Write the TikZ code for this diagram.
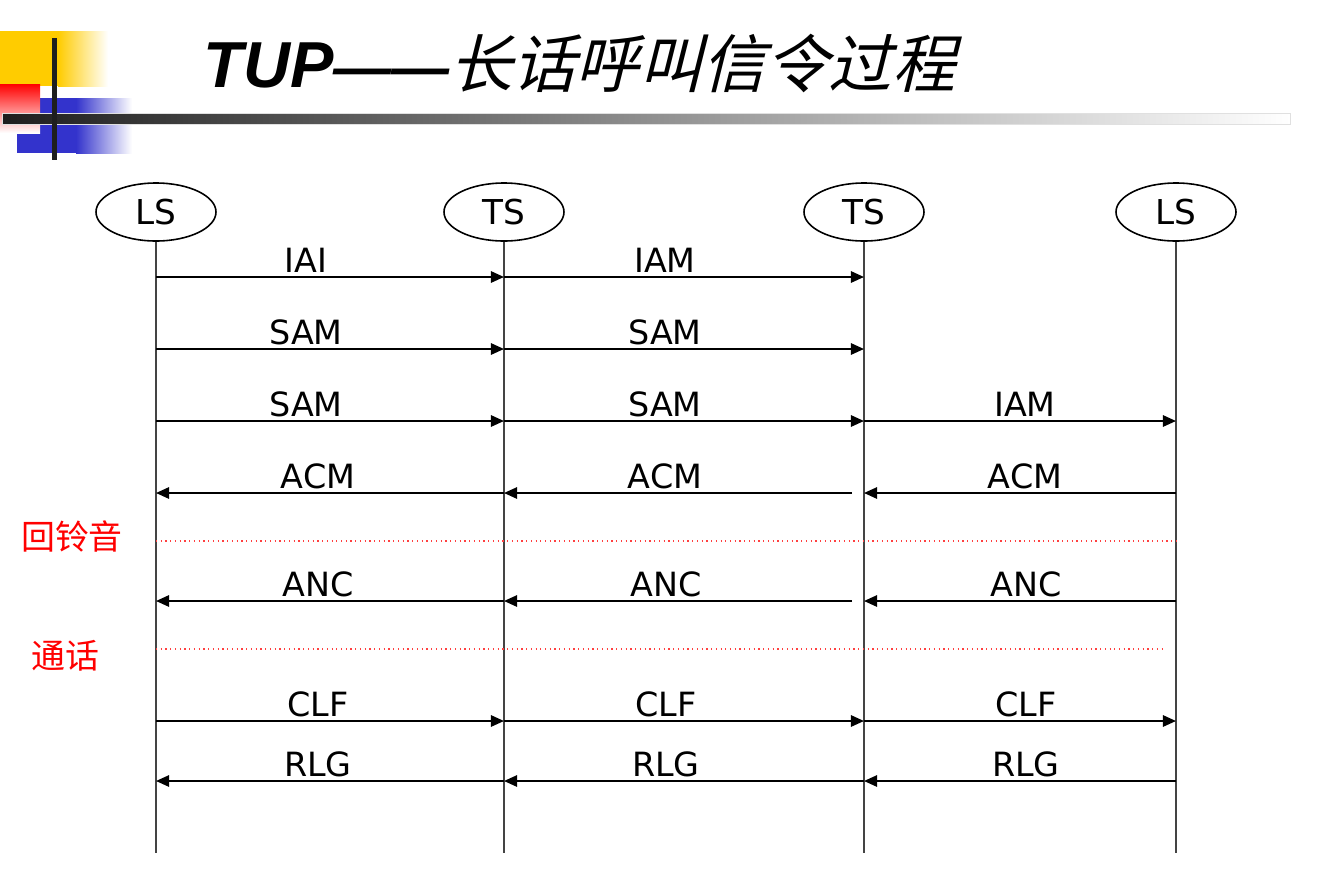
\documentclass[tikz,border=0pt]{standalone}
\usepackage{fontspec}
\setmainfont{DejaVu Sans}
\newfontfamily\cjkfont{Noto Sans CJK SC}
\newfontfamily\cjkslant{Noto Sans CJK SC}[FakeSlant=0.25]
\newfontfamily\titlelatin{Liberation Sans}
\usetikzlibrary{arrows.meta,calc,shapes.geometric}
\definecolor{barblack}{HTML}{1E1E1E}
\definecolor{decoyellow}{HTML}{FFCC00}
\definecolor{decoblue}{HTML}{3333CC}
\definecolor{lifegray}{HTML}{444444}
\tikzset{
  entity/.style={draw=black, line width=0.9pt, ellipse, minimum width=120*0.02cm,
    minimum height=58*0.02cm, inner sep=0pt, font=\fontsize{19.5}{22}\selectfont},
  lifeline/.style={draw=lifegray, line width=0.9pt},
  msg/.style={draw=black, line width=1.1pt, -{Triangle[length=7.5pt,width=6.5pt]}},
  lbl/.style={font=\fontsize{19}{22}\selectfont, inner sep=0pt},
  phase/.style={draw=red!75, line width=0.7pt, dotted},
  phaselbl/.style={text=red, font=\cjkfont\fontsize{19.3}{22}\selectfont, inner sep=0pt}
}
\begin{document}
\begin{tikzpicture}[x=0.02cm, y=-0.02cm]
\useasboundingbox (0,0) rectangle (1323,893);

% corner ornament
\fill[decoyellow] (0,31) rectangle (58,86);
\shade[left color=decoyellow, right color=white] (58,31) rectangle (108,86);
\fill[decoblue] (17,98) rectangle (76,153);
\shade[left color=decoblue, right color=white] (76,98) rectangle (132,153);
\shade[shading angle=225, top color=red, bottom color=white] (0,84) rectangle (40,133);
\shade[left color=barblack, right color=white, draw=black!12, line width=0.4pt] (2,113) rectangle (1290,124);
\fill[barblack] (52,38) rectangle (57,160);

% title
\node[anchor=base west, inner sep=0pt] (title) at (203,87)
  {\titlelatin\bfseries\itshape\fontsize{37}{40}\selectfont TUP\fontsize{33}{40}\selectfont——\cjkslant\mdseries\upshape\fontsize{36}{40}\selectfont 长话呼叫信令过程};

% entities
\node[entity] (e1) at (156,212) {LS};
\node[entity] (e2) at (504,212) {TS};
\node[entity] (e3) at (864,212) {TS};
\node[entity] (e4) at (1176,212) {LS};

\foreach \i/\x in {1/156,2/504,3/864,4/1176}{
  \coordinate (b\i) at (\x,853);
  \draw[lifeline] (e\i.south) -- (b\i);
}

% message rows
\coordinate (r1) at (0,277);
\coordinate (r2) at (0,349);
\coordinate (r3) at (0,421);
\coordinate (r4) at (0,493);
\coordinate (p1) at (0,541);
\coordinate (r5) at (0,601);
\coordinate (p2) at (0,649);
\coordinate (r6) at (0,721);
\coordinate (r7) at (0,781);

% IAI / IAM
\draw[msg] (b1 |- r1) -- (b2 |- r1);
\draw[msg] (b2 |- r1) -- (b3 |- r1);
\node[lbl] (t11) at (306,260) {IAI};
\node[lbl] (t12) at (665,260) {IAM};

% SAM
\draw[msg] (b1 |- r2) -- (b2 |- r2);
\draw[msg] (b2 |- r2) -- (b3 |- r2);
\node[lbl] (t21) at (306,332) {SAM};
\node[lbl] (t22) at (665,332) {SAM};

% SAM / SAM / IAM
\draw[msg] (b1 |- r3) -- (b2 |- r3);
\draw[msg] (b2 |- r3) -- (b3 |- r3);
\draw[msg] (b3 |- r3) -- (b4 |- r3);
\node[lbl] (t31) at (306,404) {SAM};
\node[lbl] (t32) at (665,404) {SAM};
\node[lbl] (t33) at (1025,404) {IAM};

% ACM
\draw[msg] (b2 |- r4) -- (b1 |- r4);
\draw[msg] ($(b3 |- r4)+(-12,0)$) -- (b2 |- r4);
\draw[msg] (b4 |- r4) -- (b3 |- r4);
\node[lbl] (t41) at (318,476) {ACM};
\node[lbl] (t42) at (665,476) {ACM};
\node[lbl] (t43) at (1025,476) {ACM};

% ringing tone
\draw[phase] (b1 |- p1) -- (b4 |- p1);
\node[phaselbl] (ring) at (72,536) {回铃音};

% ANC
\draw[msg] (b2 |- r5) -- (b1 |- r5);
\draw[msg] ($(b3 |- r5)+(-12,0)$) -- (b2 |- r5);
\draw[msg] (b4 |- r5) -- (b3 |- r5);
\node[lbl] (t51) at (318,584) {ANC};
\node[lbl] (t52) at (666,584) {ANC};
\node[lbl] (t53) at (1026,584) {ANC};

% conversation
\draw[phase] (b1 |- p2) -- ($(b4 |- p2)+(-13,0)$);
\node[phaselbl] (talk) at (65,656) {通话};

% CLF
\draw[msg] (b1 |- r6) -- (b2 |- r6);
\draw[msg] (b2 |- r6) -- (b3 |- r6);
\draw[msg] (b3 |- r6) -- (b4 |- r6);
\node[lbl] (t61) at (318,704) {CLF};
\node[lbl] (t62) at (666,704) {CLF};
\node[lbl] (t63) at (1026,704) {CLF};

% RLG
\draw[msg] (b2 |- r7) -- (b1 |- r7);
\draw[msg] (b3 |- r7) -- (b2 |- r7);
\draw[msg] (b4 |- r7) -- (b3 |- r7);
\node[lbl] (t71) at (318,764) {RLG};
\node[lbl] (t72) at (666,764) {RLG};
\node[lbl] (t73) at (1026,764) {RLG};
\end{tikzpicture}
\end{document}
